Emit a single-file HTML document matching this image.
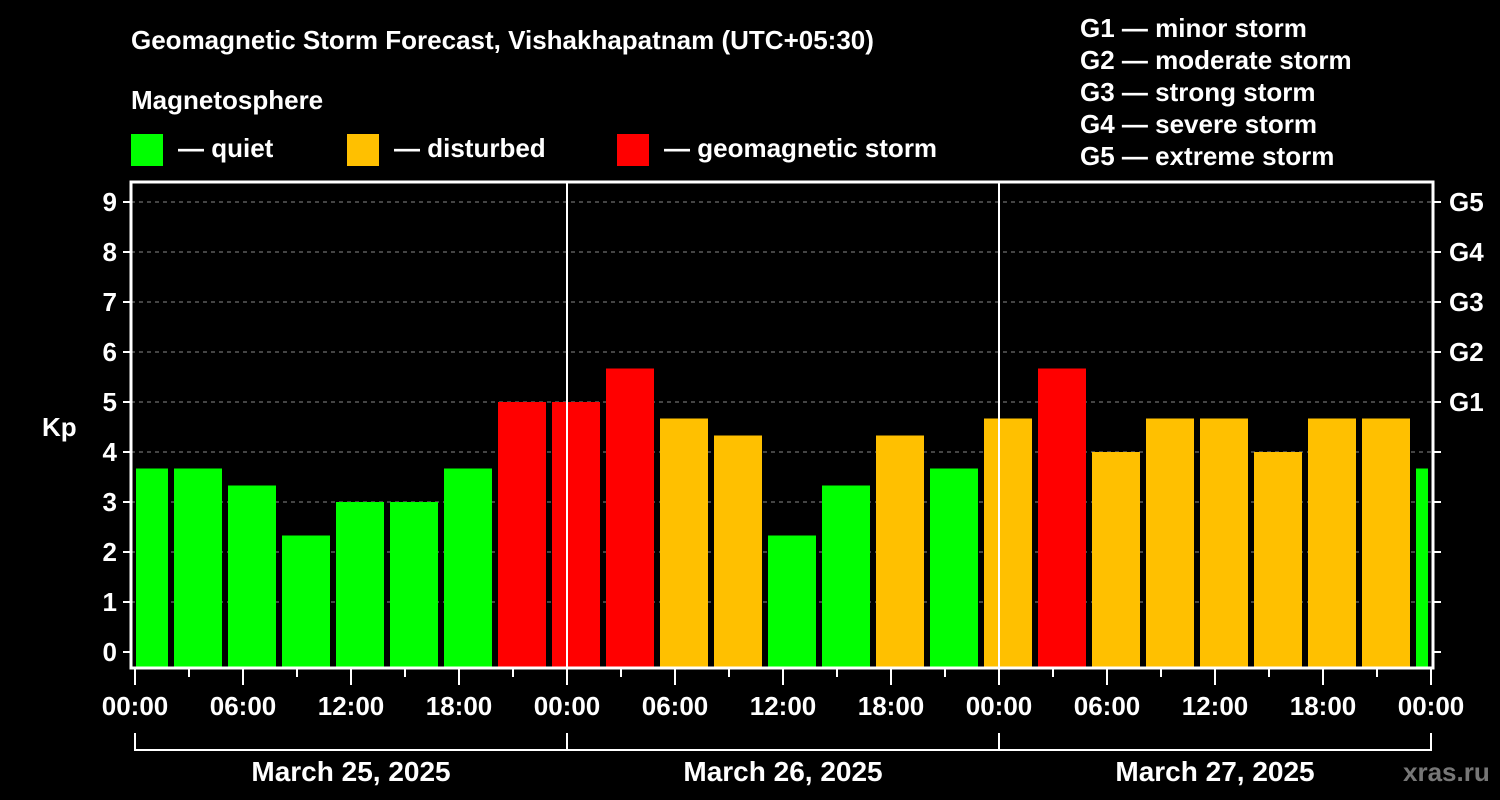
<!DOCTYPE html>
<html><head><meta charset="utf-8"><style>
html,body{margin:0;padding:0;background:#000;width:1500px;height:800px;overflow:hidden}
svg text{font-family:"Liberation Sans",Arial,sans-serif;font-weight:bold;fill:#fff}
</style></head><body>
<svg id="chart" width="1500" height="800" viewBox="0 0 1500 800">
<text x="131" y="49" font-size="26">Geomagnetic Storm Forecast, Vishakhapatnam (UTC+05:30)</text>
<text x="131" y="109" font-size="26">Magnetosphere</text>
<g><rect x="131" y="134" width="32" height="32" fill="#00ff00"/><text x="178" y="157" font-size="26">— quiet</text></g>
<g><rect x="347" y="134" width="32" height="32" fill="#ffc000"/><text x="394" y="157" font-size="26">— disturbed</text></g>
<g><rect x="617" y="134" width="32" height="32" fill="#ff0000"/><text x="664" y="157" font-size="26">— geomagnetic storm</text></g>
<g font-size="26">
<text x="1080" y="37">G1 — minor storm</text>
<text x="1080" y="69">G2 — moderate storm</text>
<text x="1080" y="101">G3 — strong storm</text>
<text x="1080" y="133">G4 — severe storm</text>
<text x="1080" y="165">G5 — extreme storm</text>
</g>
<text x="42" y="436" font-size="26">Kp</text>
<text x="1403" y="781" font-size="26" fill="#777" style="fill:#777">xras.ru</text>
<g id="grid"></g><g id="bars"></g><g id="axes"></g>
</svg>
<script>
const kpValues=[3.67,3.67,3.33,2.33,3,3,3.67,5,5,5.67,4.67,4.33,2.33,3.33,4.33,3.67,4.67,5.67,4,4.67,4.67,4,4.67,4.67,3.67];
const yTicks=[0,1,2,3,4,5,6,7,8,9];
const gLabels=["G1","G2","G3","G4","G5"];
const gLevels=[5,6,7,8,9];
const timeLabels=["00:00","06:00","12:00","18:00"];
const dayLabels=["March 25, 2025","March 26, 2025","March 27, 2025"];
const NS="http://www.w3.org/2000/svg";
const L=131,R=1433,T=182,B=668,X0=135,PXH=18;
const y=v=>652-v*50;
const x=h=>X0+h*PXH;
function mk(p,tag,at){const e=document.createElementNS(NS,tag);for(const k in at)e.setAttribute(k,at[k]);p.appendChild(e);return e;}
const grid=document.getElementById('grid'),bars=document.getElementById('bars'),axes=document.getElementById('axes');
yTicks.forEach(v=>{
 if(v>0){const g=mk(grid,'line',{x1:L,x2:R,y1:y(v),y2:y(v),stroke:'#888','stroke-width':1,'stroke-dasharray':'4,4'});
 
 }
 const t=mk(axes,'line',{x1:L-8,x2:L,y1:y(v),y2:y(v),stroke:'#fff','stroke-width':2});
 
 
 const tx=mk(axes,'text',{x:L-14,y:y(v)+9,'font-size':26,'text-anchor':'end'});tx.textContent=v;
 
 
 const rt=mk(axes,'line',{x1:R,x2:R+8,y1:y(v),y2:y(v),stroke:'#fff','stroke-width':2});
 
 
});
gLevels.forEach((v,i)=>{const t=mk(axes,'text',{x:1449,y:y(v)+9,'font-size':26});t.textContent=gLabels[i];
 
 });
const col=v=>v>=5?'#ff0000':(v>=4?'#ffc000':'#00ff00');
kpValues.forEach((v,i)=>{
 const c=i*3+0.5;let x1=x(c)-24,x2=x(c)+24;x1=Math.max(x1,L+5);x2=Math.min(x2,R-5);
 const r=mk(bars,'rect',{x:x1,y:y(v),width:x2-x1,height:B-y(v),fill:col(v)});
 
 
});
[1,2].forEach(d=>{const l=mk(axes,'line',{x1:x(d*24),x2:x(d*24),y1:T,y2:B,stroke:'#fff','stroke-width':2});
 
 });
const fr=mk(axes,'rect',{x:L,y:T,width:R-L,height:B-T,fill:'none',stroke:'#fff','stroke-width':3});


for(let h=0;h<=72;h+=3){const major=h%6===0;
 const t=mk(axes,'line',{x1:x(h),x2:x(h),y1:B,y2:B+(major?17:9),stroke:'#fff','stroke-width':2});
 
 
 if(major){const tx=mk(axes,'text',{x:x(h),y:715,'font-size':26,'text-anchor':'middle'});tx.textContent=timeLabels[(h/6)%4];
 
 }}
mk(axes,'line',{x1:x(0),x2:x(72),y1:750,y2:750,stroke:'#fff','stroke-width':2});
for(let d=0;d<=3;d++){const l=mk(axes,'line',{x1:x(d*24),x2:x(d*24),y1:733,y2:751,stroke:'#fff','stroke-width':2});
 
 }
dayLabels.forEach((s,d)=>{const t=mk(axes,'text',{x:x(d*24+12),y:781,'font-size':28,'text-anchor':'middle'});t.textContent=s;
 
 });
</script>
</body></html>
